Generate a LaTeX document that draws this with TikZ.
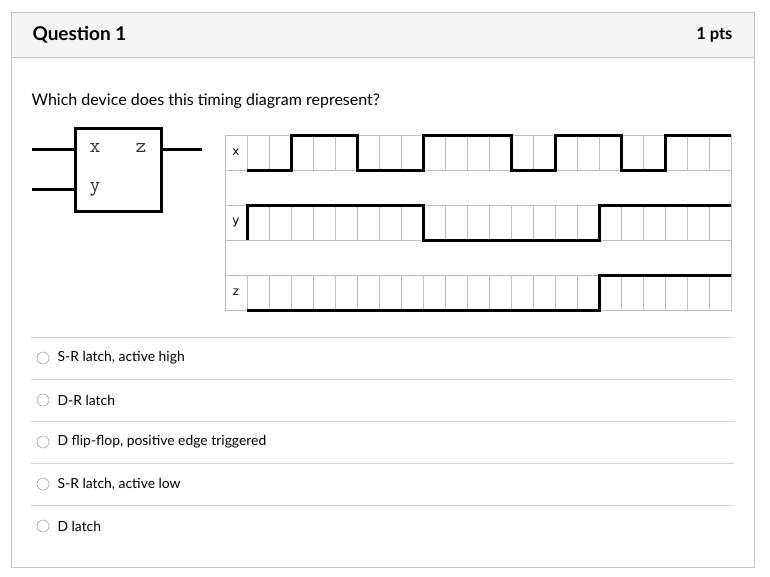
\documentclass[tikz,border=0pt]{standalone}
\usepackage{fontspec}
\setmainfont{Lato}
\newfontfamily\djv{DejaVu Sans}
\begin{document}
\begin{tikzpicture}[x=1pt,y=-1pt,
  sig/.style={line width=3pt,line join=miter},
  grid/.style={draw=gray!50,line width=0.8pt},
  opt/.style={anchor=west,font=\fontsize{13.9}{16}\selectfont},
  radio/.style={circle,draw=gray!70,line width=0.6pt,minimum size=12pt,inner sep=0pt}]
\useasboundingbox (0,0) rectangle (770,576);
\fill[white] (0,0) rectangle (770,576);
% card
\fill[gray!8] (11,12) rectangle (754,57);
\draw[gray!45,line width=0.8pt] (11,12) rectangle (754,567);
\draw[gray!45,line width=0.8pt] (11,57) -- (754,57);
\node[anchor=west,font=\fontsize{19}{22}\selectfont\bfseries] (q) at (29,35) {Question 1};
\node[anchor=east,font=\fontsize{16.5}{19}\selectfont\bfseries] (pts) at (736,35) {1 pts};
\node[anchor=west,font=\fontsize{16}{19}\selectfont] (qt) at (28,101) {Which device does this timing diagram represent?};
% block
\draw[line width=3pt] (75,128) rectangle (161,211);
\draw[line width=3pt] (32,149) -- (75,149);
\draw[line width=3pt] (32,189) -- (75,189);
\draw[line width=3pt] (161,149) -- (202,149);
\node[font=\ttfamily\fontsize{21}{21}\selectfont,text=black!80] (bx) at (95,148) {x};
\node[font=\ttfamily\fontsize{21}{21}\selectfont,text=black!80] (bz) at (141,148) {z};
\node[font=\ttfamily\fontsize{21}{21}\selectfont,text=black!80] (by) at (95,189) {y};
% timing grid
\foreach \t in {135,205,275}{
  \draw[grid] (225,\t) rectangle (731,\t+35);
  \foreach \i in {0,...,21} \draw[grid] (247+\i*22,\t) -- (247+\i*22,\t+35);
}
\draw[grid] (225,170) rectangle (731,205);
\draw[grid] (225,240) rectangle (731,275);
\node[font=\djv\fontsize{12}{12}\selectfont] (lx) at (236,152) {x};
\node[font=\djv\fontsize{12}{12}\selectfont] (ly) at (236,222) {y};
\node[font=\djv\fontsize{12}{12}\selectfont] (lz) at (236,292) {z};
% signals
\draw[sig] (247,170) -- (291,170) -- (291,135) -- (357,135) -- (357,170) -- (423,170) -- (423,135) -- (511,135) -- (511,170) -- (555,170) -- (555,135) -- (621,135) -- (621,170) -- (665,170) -- (665,135) -- (731,135);
\draw[sig] (247,240) -- (247,205) -- (423,205) -- (423,240) -- (599,240) -- (599,205) -- (731,205);
\draw[sig] (247,310) -- (599,310) -- (599,275) -- (731,275);
% options
\foreach \yy in {337,379,421,463,505} \draw[gray!35,line width=0.8pt] (31,\yy) -- (734,\yy);
\node[radio] (r1) at (43,358) {}; \node[opt] (o1) at (54,358) {S-R latch, active high};
\node[radio] (r2) at (43,400) {}; \node[opt] (o2) at (54,400) {D-R latch};
\node[radio] (r3) at (43,442) {}; \node[opt] (o3) at (54,442) {D flip-flop, positive edge triggered};
\node[radio] (r4) at (43,484) {}; \node[opt] (o4) at (54,484) {S-R latch, active low};
\node[radio] (r5) at (43,526) {}; \node[opt] (o5) at (54,526) {D latch};
\end{tikzpicture}
\end{document}
